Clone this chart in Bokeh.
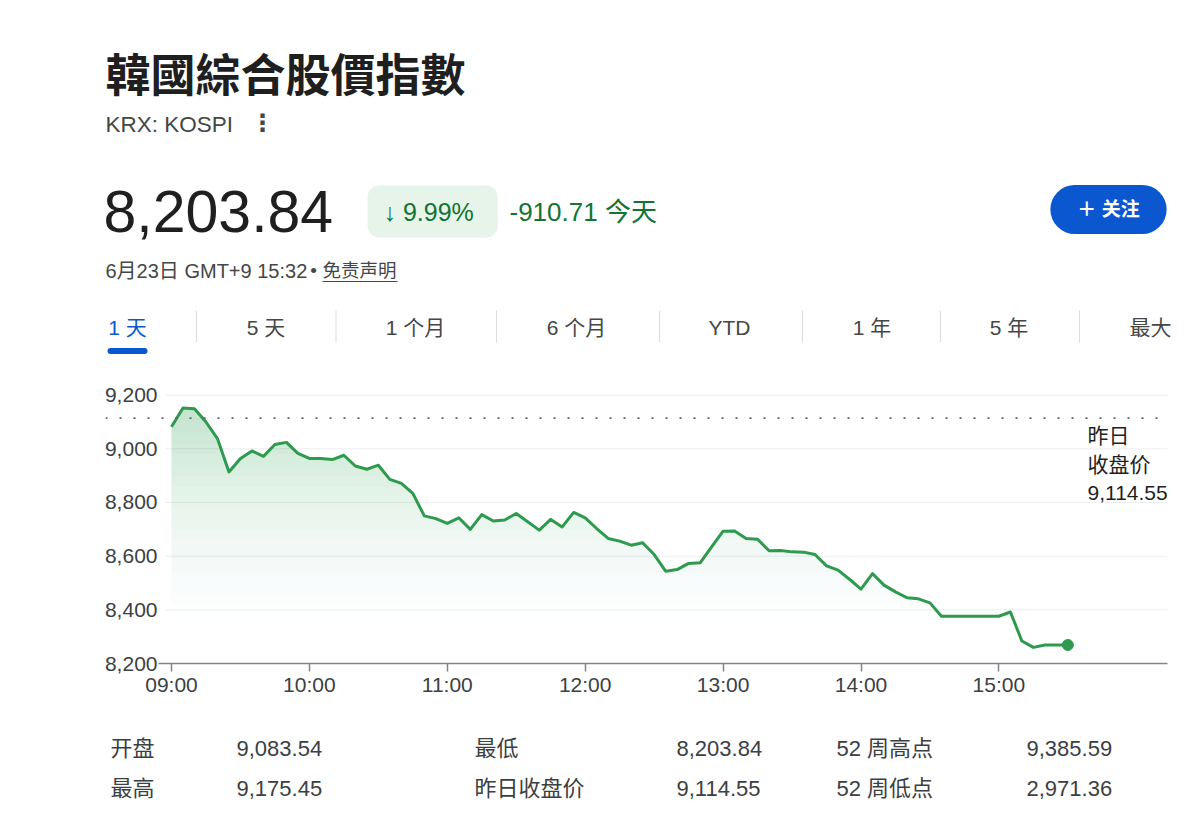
import numpy as np
from bokeh.plotting import figure
from bokeh.layouts import column
from bokeh.models import Label, Span, FixedTicker, NumeralTickFormatter, Range1d
from bokeh.embed import file_html
from bokeh.resources import INLINE

# ---------------- data ----------------
title_text = "韓國綜合股價指數"
ticker_text = "KRX: KOSPI"
last_price = "8,203.84"
change_pct = "↓ 9.99%"
change_abs = "-910.71 今天"
timestamp = "6月23日 GMT+9 15:32"
disclaimer = "免责声明"
follow_text = "＋ 关注"
tabs = ["1 天", "5 天", "1 个月", "6 个月", "YTD", "1 年", "5 年", "最大"]

times = ["09:00", "09:05", "09:10", "09:15", "09:20", "09:25", "09:30", "09:35", "09:40", "09:45", "09:50", "09:55",
         "10:00", "10:05", "10:10", "10:15", "10:20", "10:25", "10:30", "10:35", "10:40", "10:45", "10:50", "10:55",
         "11:00", "11:05", "11:10", "11:15", "11:20", "11:25", "11:30", "11:35", "11:40", "11:45", "11:50", "11:55",
         "12:00", "12:05", "12:10", "12:15", "12:20", "12:25", "12:30", "12:35", "12:40", "12:45", "12:50", "12:55",
         "13:00", "13:05", "13:10", "13:15", "13:20", "13:25", "13:30", "13:35", "13:40", "13:45", "13:50", "13:55",
         "14:00", "14:05", "14:10", "14:15", "14:20", "14:25", "14:30", "14:35", "14:40", "14:45", "14:50", "14:55",
         "15:00", "15:05", "15:10", "15:15", "15:20", "15:25", "15:30"]
index_values = [9082, 9152, 9149, 9100, 9038, 8914, 8964, 8992, 8972, 9016, 9024, 8983,
                8964, 8964, 8960, 8976, 8936, 8924, 8939, 8886, 8871, 8834, 8750, 8740,
                8722, 8743, 8700, 8755, 8731, 8735, 8759, 8728, 8697, 8737, 8709, 8763,
                8743, 8703, 8666, 8656, 8641, 8650, 8606, 8544, 8550, 8573, 8575, 8635,
                8693, 8694, 8666, 8663, 8620, 8621, 8616, 8615, 8606, 8564, 8548, 8514,
                8477, 8535, 8492, 8467, 8445, 8441, 8426, 8376, 8376, 8376, 8376, 8376,
                8376, 8392, 8284, 8260, 8269, 8269, 8269]
prev_close = 9114.55
prev_close_label = ["昨日", "收盘价", "9,114.55"]
x_tick_labels = ["09:00", "10:00", "11:00", "12:00", "13:00", "14:00", "15:00"]
y_ticks = [8200, 8400, 8600, 8800, 9000, 9200]

stat_names_row1 = ["开盘", "最低", "52 周高点"]
stat_values_row1 = ["9,083.54", "8,203.84", "9,385.59"]
stat_names_row2 = ["最高", "昨日收盘价", "52 周低点"]
stat_values_row2 = ["9,175.45", "9,114.55", "2,971.36"]

# ---------------- style ----------------
W = 1200
GREEN = "#2d9a4e"
FILL = "#34a853"
DARK = "#1f1f1f"
GREY = "#444746"
LAT = "Liberation Sans, Noto Sans CJK SC"
CJK_TC = "Noto Sans CJK TC"


def plain_fig(y_top, y_bottom):
    f = figure(width=W, height=y_bottom - y_top, output_backend="svg", toolbar_location=None,
               x_range=Range1d(0, W), y_range=Range1d(y_bottom, y_top),
               x_axis_type=None, y_axis_type=None,
               min_border_left=0, min_border_right=0, min_border_top=0, min_border_bottom=0,
               background_fill_color="white", border_fill_color="white", outline_line_color=None)
    f.xgrid.visible = False
    f.ygrid.visible = False
    return f


def lab(f, txt, x, y, size, color=DARK, font=LAT, style="normal", align="left", **kw):
    f.add_layout(Label(x=x, y=y, text=txt, text_font=font, text_font_size=f"{size}px",
                       text_color=color, text_font_style=style, text_align=align,
                       text_baseline="middle", **kw))


# ---------------- header ----------------
HEAD_H = 375
hdr = plain_fig(0, HEAD_H)
lab(hdr, title_text, 105, 72, 45, DARK, font=CJK_TC, style="bold")
lab(hdr, ticker_text, 105, 124, 22.5, GREY)
lab(hdr, "⋮", 250, 122, 24, GREY, font="DejaVu Sans", style="bold")
lab(hdr, last_price, 103, 211, 59, DARK)
lab(hdr, change_pct, 367, 211, 25, "#137333", background_fill_color="#e6f4ea",
    border_radius=12, padding=dict(left=16, right=24, top=12, bottom=12))
lab(hdr, change_abs, 509, 211, 26, "#137333")
lab(hdr, follow_text, 1108, 209, 19, "white", style="bold", align="center",
    background_fill_color="#0b57d0", border_radius=26,
    padding=dict(left=27, right=27, top=14, bottom=14))

lab(hdr, timestamp, 105, 270, 20, GREY)
lab(hdr, "•", 313, 270, 19, GREY, align="center")
lab(hdr, disclaimer, 322, 270, 18.5, GREY)
hdr.segment(x0=[322], y0=[281], x1=[397], y1=[281], line_color=GREY, line_width=1)

tab_centers = [127, 265.5, 415, 576, 729, 871.5, 1008.5, 1150]
for i, (t, c) in enumerate(zip(tabs, tab_centers)):
    lab(hdr, t, c, 327, 21, "#0b57d0" if i == 0 else GREY, align="center")
seps = [196, 335.5, 496, 659, 802, 940, 1079]
hdr.segment(x0=seps, y0=[310] * len(seps), x1=seps, y1=[342] * len(seps),
            line_color="#dadce0", line_width=1)
hdr.segment(x0=[110], y0=[350.5], x1=[144], y1=[350.5], line_color="#0b57d0",
            line_width=6, line_cap="round")

# ---------------- chart ----------------
CH_TOP, CH_BOT = HEAD_H, 715
FL, FR = 105, 1167                 # frame spans label column so the dotted line can reach the left edge
FT, FB = 385 - CH_TOP, 663 - CH_TOP
CH_H = CH_BOT - CH_TOP
PPM = 137.9 / 60                   # pixels per minute
X0 = -(171 - FL) / PPM             # 09:00 sits at x=171
X1 = X0 + (FR - FL) / PPM
X_AXIS_START = -(171 - 158) / PPM  # axis line starts at x=158
X_GRID_START = -(171 - 165) / PPM


def to_min(t):
    h, m = t.split(":")
    return int(h) * 60 + int(m) - 540


mins = np.array([to_min(t) for t in times], dtype=float)
vals = np.array(index_values, dtype=float)

Y0, Y1 = 8200, 9236
p = figure(width=W, height=CH_H, output_backend="svg", toolbar_location=None,
           x_range=Range1d(X0, X1), y_range=Range1d(Y0, Y1),
           min_border_left=FL, min_border_right=W - FR, min_border_top=FT, min_border_bottom=CH_H - FB,
           background_fill_color="white", border_fill_color="white", outline_line_color=None)

# horizontal grid lines (start just right of the tick labels)
gl = [v for v in y_ticks if v != Y0]
p.segment(x0=[X_GRID_START] * len(gl), y0=gl, x1=[X1] * len(gl), y1=gl,
          line_color="#eceef0", line_width=1)

# vertical fade fill (stacked translucent layers, alpha ramps up with level)
levels = np.arange(8380, 9150, 40)
for k, t in enumerate(levels):
    a = 0.006 + 0.019 * k / (len(levels) - 1)
    p.varea(x=mins, y1=np.maximum(vals, t), y2=t, fill_color=FILL, fill_alpha=a)

p.line(mins, vals, line_color=GREEN, line_width=3, line_join="round")
p.scatter([mins[-1]], [vals[-1]], size=11, color=GREEN)

p.add_layout(Span(location=prev_close, dimension="width", line_color="#5f6368",
                  line_dash="2 12", line_width=1.6))

xt = [to_min(t) for t in x_tick_labels]
p.xaxis.ticker = FixedTicker(ticks=xt)
p.xaxis.bounds = (X_AXIS_START, X1)
p.xaxis.major_label_overrides = {k: v for k, v in zip(xt, x_tick_labels)}
p.xaxis.axis_line_color = "#80868b"
p.xaxis.axis_line_width = 1.5
p.xaxis.major_tick_line_color = "#80868b"
p.xaxis.major_tick_line_width = 1.5
p.xaxis.major_tick_in = 0
p.xaxis.major_tick_out = 8
p.xaxis.minor_tick_line_color = None
p.xaxis.major_label_text_font = "Liberation Sans"
p.xaxis.major_label_text_font_size = "21px"
p.xaxis.major_label_text_color = "#3c4043"
p.xaxis.major_label_standoff = 1

p.yaxis.ticker = FixedTicker(ticks=y_ticks)
p.yaxis.formatter = NumeralTickFormatter(format="0,0")
p.yaxis.axis_line_color = None
p.yaxis.major_tick_line_color = None
p.yaxis.major_tick_out = 0
p.yaxis.major_tick_in = 0
p.yaxis.minor_tick_line_color = None
p.yaxis.major_label_text_font = "Liberation Sans"
p.yaxis.major_label_text_font_size = "21px"
p.yaxis.major_label_text_color = "#3c4043"
p.yaxis.major_label_standoff = -(157 - FL)   # labels sit over the left part of the frame

p.xgrid.grid_line_color = None
p.ygrid.grid_line_color = None

for i, t in enumerate(prev_close_label):
    p.add_layout(Label(x=1087 - FL, y=FB - (435 - CH_TOP + i * 28.5), x_units="screen", y_units="screen",
                       text=t, text_font=LAT, text_font_size="21px", text_color=DARK,
                       text_baseline="middle"))

# ---------------- stats ----------------
st = plain_fig(CH_BOT, 834)
cols_name = [110, 474, 836]
cols_val = [236, 676, 1026]
for names, values, cy in [(stat_names_row1, stat_values_row1, 748), (stat_names_row2, stat_values_row2, 788)]:
    for n, v, xn, xv in zip(names, values, cols_name, cols_val):
        lab(st, n, xn, cy, 22, "#3c4043")
        lab(st, v, xv, cy, 22, "#3c4043")

# wrap header / stats in their own columns so their frames are not aligned to the chart frame
layout = column(column(hdr, spacing=0), p, column(st, spacing=0), spacing=0)
open("out.html", "w").write(file_html(layout, INLINE))
